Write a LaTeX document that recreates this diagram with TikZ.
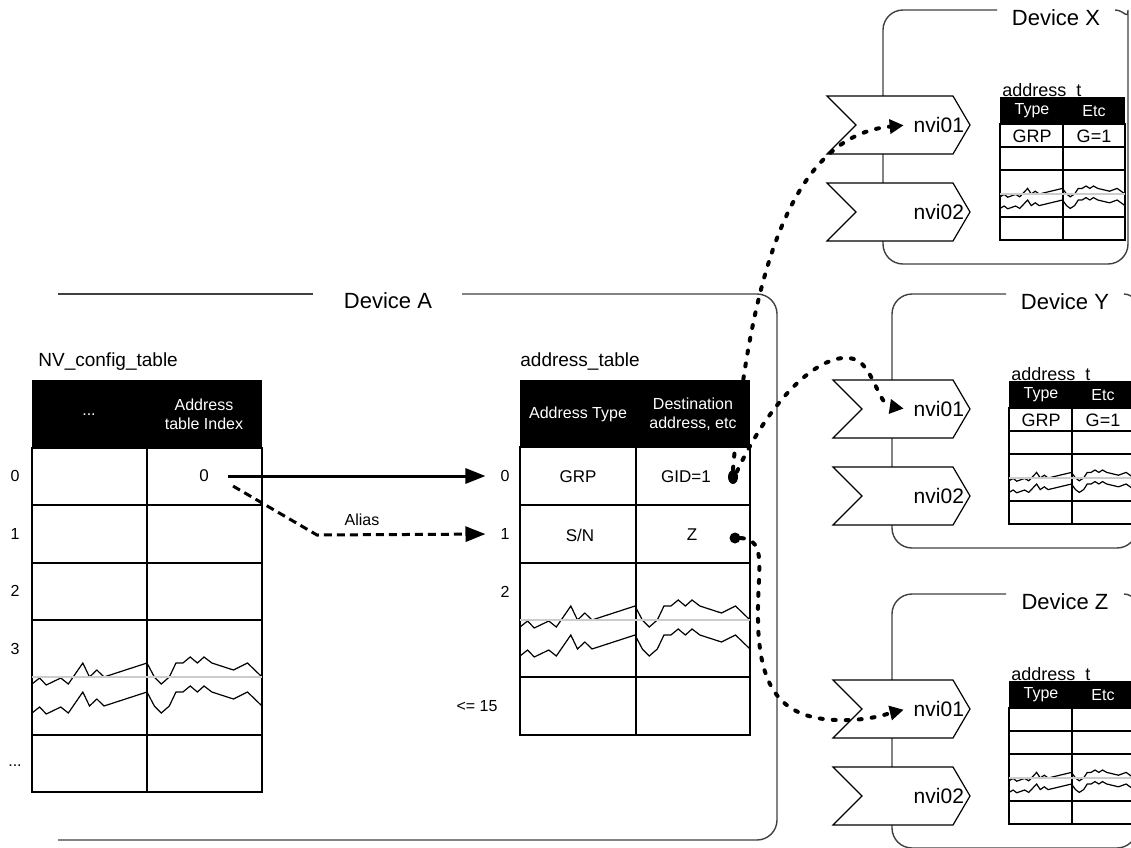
\documentclass[tikz,border=0pt]{standalone}
\usepackage{fontspec}
\setmainfont{Liberation Sans}
\usetikzlibrary{positioning,arrows.meta,shapes.geometric}

\newcommand\tearline{(0,7) -- (.033,1) -- (.062,8) -- (.125,1) -- (.158,7) -- (.221,-14) -- (.25,0) -- (.282,-7) -- (.313,0) -- (.5,-14) -- (.532,0) -- (.562,7) -- (.597,0) -- (.626,-14) -- (.656,-14) -- (.688,-20) -- (.719,-14) -- (.748,-20) -- (.782,-14) -- (.876,-7) -- (.937,-14) -- (1,0)}

\tikzset{
  tear/.pic={
    \draw[line width=0.6pt] \tearline;
    \draw[line width=0.6pt, shift={(0,29)}] \tearline;
    \draw[gray!40, line width=0.9pt] (0,0) -- (1,0);
  }
}

\begin{document}
\begin{tikzpicture}[x=0.5pt, y=-0.5pt,
    font=\fontsize{8}{9.5}\selectfont,
    rule/.style={line width=0.7pt},
    devframe/.style={draw=black!75, line width=0.7pt, rounded corners=10pt},
    hdr/.style={text=white, align=center},
    cell/.style={font=\fontsize{8.5}{10}\selectfont},
    tbltitle/.style={font=\fontsize{9.5}{11}\selectfont, anchor=base west, inner sep=0pt},
    devtitle/.style={tbltitle, font=\fontsize{9}{10}\selectfont},
    devcell/.style={font=\fontsize{9}{10}\selectfont},
    devlbl/.style={font=\fontsize{11}{13}\selectfont},
    nvi/.style={font=\fontsize{10.5}{12}\selectfont, anchor=east},
    link/.style={-{Triangle[length=10pt,width=7.5pt]}, line width=1.5pt},
    aliasarr/.style={link, dash pattern=on 4pt off 2.5pt},
    hop/.style={-{Triangle[length=7pt,width=7pt]}, line width=2pt, line cap=round, dash pattern=on 1.5pt off 5pt},
    dotend/.style={fill, inner sep=0pt}
]
\useasboundingbox (0,0) rectangle (1131,847);
\clip (0,0) rectangle (1131,847);

% Device A
\draw[devframe] (58,294) -- (313,294);
\draw[devframe] (462,294) -- (777,294) -- (777,840) -- (58,840);
\node[devlbl] (deva) at (388,301) {Device A};

% NV_config_table
\node[tbltitle] (nvtitle) at (38,366) {NV\_config\_table};
\fill (32,380) rectangle (262,448);
\draw[rule] (32,448) rectangle (262,792) (147,448) -- (147,792);
\foreach \y in {505,563,620,735} \draw[rule] (32,\y) -- (262,\y);
\pic[xscale=230] at (32,677) {tear};
\node[hdr] (nvdots) at (89,415) {...};
\node[hdr] (nvindex) at (204,414) {Address\\table Index};
\foreach \i/\y in {0/476,1/534,2/591,3/649} \node (nvrow\i) at (15,\y) {\i};
\node (nvrowmore) at (15,766) {...};
\node[cell] (nvzero) at (204,476) {0};

% address_table
\node[tbltitle] (attitle) at (520,366) {address\_table};
\fill (520,380) rectangle (750,447);
\draw[rule] (520,447) rectangle (750,735) (636,447) -- (636,735);
\foreach \y in {505,563,677} \draw[rule] (520,\y) -- (750,\y);
\pic[xscale=230] at (520,620) {tear};
\node[hdr] (attype) at (578,414) {Address Type};
\node[hdr] (atdest) at (693,414) {Destination\\address, etc};
\node[cell] (atgrp) at (578,477) {GRP};
\node[cell] (atgid) at (686,477) {GID=1};
\node[cell] (atsn) at (580,535) {S/N};
\node[cell] (atz) at (692,535) {Z};
\foreach \i/\y in {0/476,1/534,2/592} \node (atrow\i) at (505,\y) {\i};
\node (atrowlast) at (477,706) {<= 15};

% index and alias
\draw[link, shorten <=6pt, shorten >=4pt] (nvzero.east) -- (atrow0.west);
\coordinate (aliasbend) at (317,535);
\draw[aliasarr, shorten <=10pt, shorten >=4pt] (nvzero.east) -- (aliasbend) -- (atrow1.west);
\node (aliaslbl) at (362,520) {Alias};

% devices X, Y, Z
\foreach \dv/\devname/\fx/\fy/\nx/\gtype/\gval in {x/X/883/10/827/GRP/G=1, y/Y/892/294/833/GRP/G=1, z/Z/892/594/833//}{
  \begin{scope}[shift={(0,\fy)}]
    \draw[devframe] (\fx+114,0) -- (\fx,0) -- (\fx,254) -- (\fx+245,254) -- (\fx+245,20) to[out=90,in=0] (\fx+232,0);
    \node[devlbl] (\dv-dev) at (\fx+173,8) {Device \devname};
    \node[devtitle] (\dv-title) at (\fx+119,86) {address\_t};
    \fill (\fx+117,87) rectangle (\fx+242,114);
    \draw[rule] (\fx+117,114) rectangle (\fx+242,230) (\fx+180,114) -- (\fx+180,230);
    \foreach \y in {137,160,207} \draw[rule] (\fx+117,\y) -- (\fx+242,\y);
    \pic[xscale=125, yscale=0.4] at (\fx+117,184) {tear};
    \node[hdr] (\dv-type) at (\fx+149,101) {Type};
    \node[hdr] (\dv-etc) at (\fx+211,101) {Etc};
    \node[devcell] (\dv-grp) at (\fx+149,126) {\gtype};
    \node[devcell] (\dv-val) at (\fx+211,126) {\gval};
    \foreach \i/\ty in {1/86,2/173}{
      \draw[fill=white, line width=0.6pt] (\nx,\ty) -- (953,\ty) -- (970,\ty+29) -- (953,\ty+58) -- (\nx,\ty+58) -- (\nx+29,\ty+29) -- cycle;
      \node[nvi] (\dv-nvi\i) at (971,\ty+29) {nvi0\i};
    }
  \end{scope}
}

% bindings
\node[dotend, ellipse, minimum width=5pt, minimum height=7pt] (giddot) at (733,477) {};
\node[dotend, circle, minimum size=5.5pt] (zdot) at (735,538) {};
\draw[hop, shorten >=1.5pt] (giddot.north) .. controls (752,250) and (800,135) .. (x-nvi1.west);
\draw[hop, shorten >=1.5pt] (giddot.north east) .. controls (780,380) and (835,345) .. (860,362) .. controls (875,375) and (880,405) .. (y-nvi1.west);
\draw[hop, shorten >=1.5pt] (zdot.east) .. controls (768,540) and (757,570) .. (758,620) .. controls (759,700) and (790,722) .. (850,720) .. controls (875,719) and (890,713) .. (z-nvi1.west);
\end{tikzpicture}
\end{document}
